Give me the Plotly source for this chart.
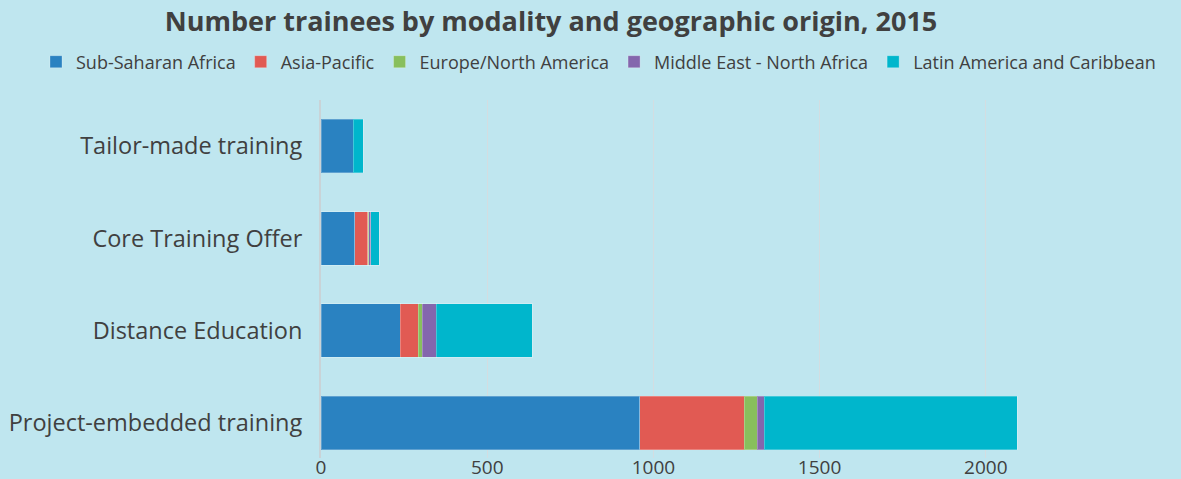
import plotly.graph_objects as go

# Categories listed bottom-to-top
categories = ["Project-embedded training", "Distance Education", "Core Training Offer", "Tailor-made training"]
sub_saharan = [959, 238, 102, 97]
asia_pacific = [314, 54, 39, 0]
europe_na = [39, 12, 3, 0]
mena = [21, 42, 5, 0]
latam = [761, 289, 26, 30]

series = [
    ("Sub-Saharan Africa", sub_saharan, "#2a82c1"),
    ("Asia-Pacific", asia_pacific, "#e15a53"),
    ("Europe/North America", europe_na, "#88bf5d"),
    ("Middle East - North Africa", mena, "#8466ad"),
    ("Latin America and Caribbean", latam, "#00b6cc"),
]

fig = go.Figure()
for name, vals, col in series:
    fig.add_trace(go.Bar(
        y=categories, x=vals, name=name, orientation="h",
        marker=dict(color=col, line=dict(color="rgba(255,255,255,0.25)", width=1)),
    ))

FONT = "Open Sans"
W, H = 1181, 479
L, T, B = 321, 100, 21
PLOT_RIGHT = 1152            # pixel x of plot-area right edge
gw = W - L                   # grid width (right margin 0)
ph = H - T - B

fig.update_layout(
    barmode="stack",
    bargap=0.42,
    width=W, height=H,
    margin=dict(l=L, r=0, t=T, b=B, autoexpand=False),
    paper_bgcolor="#bfe6ef",
    plot_bgcolor="rgba(0,0,0,0)",
    font=dict(family=FONT, color="#404040"),
    title=dict(
        text="<b>Number trainees by modality and geographic origin, 2015</b>",
        x=551 / W, xref="container", xanchor="center",
        y=1 - 22 / H, yref="container", yanchor="middle",
        font=dict(size=27, family=FONT, color="#404040"),
    ),
    legend=dict(
        orientation="h", traceorder="normal",
        x=(36 - L) / gw, xref="paper", xanchor="left",
        y=1 + (T - 62) / ph, yref="paper", yanchor="middle",
        font=dict(size=18, family=FONT, color="#404040"),
        itemwidth=30,
        bgcolor="rgba(0,0,0,0)",
    ),
    xaxis=dict(
        domain=[0, (PLOT_RIGHT - L) / gw],
        range=[0, 2500],
        tickvals=[0, 500, 1000, 1500, 2000],
        showgrid=True, gridcolor="#d3dde1", gridwidth=1,
        zeroline=False, showline=False,
        tickfont=dict(size=19, family=FONT, color="#404040"),
        ticks="", automargin=False, ticklabelstandoff=-4,
    ),
    yaxis=dict(
        range=[-0.38, 3.5],
        showline=True, linecolor="#c9d3d7", linewidth=2,
        showgrid=False, ticks="",
        tickfont=dict(size=23.5, family=FONT, color="#404040"),
        ticklabelstandoff=12, automargin=False,
    ),
)

fig.write_html("out.html", config={"displayModeBar": False},
               post_script="document.body.style.margin='0';")
